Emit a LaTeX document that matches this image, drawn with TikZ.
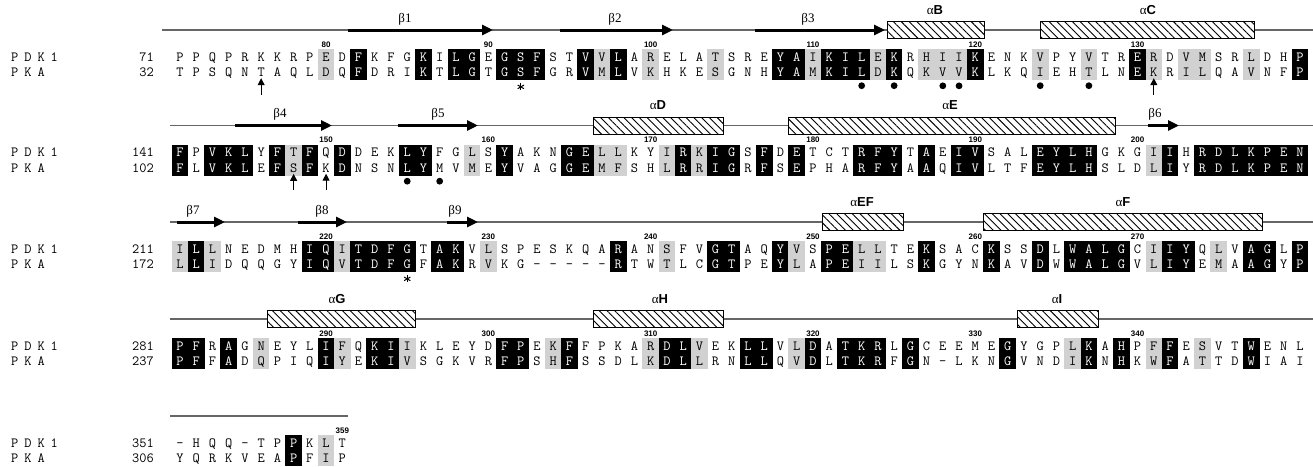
\documentclass[tikz,border=0pt]{standalone}
\usepackage{fontspec}
\setmainfont{Liberation Serif}
\setsansfont{Liberation Sans}
\usetikzlibrary{arrows.meta,patterns.meta}
\definecolor{shadegray}{gray}{0.82}
\definecolor{topogray}{gray}{0.4}
\tikzset{
  seqchar/.style={font=\ttfamily\fontsize{14}{14}\selectfont, inner sep=0pt, anchor=base},
  numlab/.style={font=\sffamily\bfseries\fontsize{8}{8}\selectfont, inner sep=0pt, anchor=base},
  namelab/.style={font=\ttfamily\fontsize{14}{14}\selectfont, inner sep=0pt, anchor=base west},
  startnum/.style={font=\ttfamily\fontsize{14}{14}\selectfont, inner sep=0pt, anchor=base east},
  topoline/.style={line width=1.1pt, draw=topogray},
  strand/.style={line width=3pt, -{Triangle[length=11pt,width=10pt]}},
  helix/.style={draw=black, line width=0.8pt, fill=white, postaction={pattern={Lines[angle=-45,distance=5.5pt,line width=0.9pt]}}},
  sslab/.style={font=\rmfamily\fontsize{13}{13}\selectfont, inner sep=0pt, anchor=base},
  markarrow/.style={line width=1pt, -{Triangle[length=7pt,width=7pt]}},
  astarm/.style={line width=1pt},
}
\newcommand\hx[1]{α{\sffamily\bfseries #1}}
\newcommand\alncell[6]{%
  \pgfmathsetmacro\cx{180+16.23*(#3-1)}%
  \def\tc{black}%
  \if k#6\relax
    \fill[black] (\cx-8.3,#2-7.75) rectangle (\cx+8.3,#2+23.25);
    \def\tc{white}%
  \else\if g#6\relax
    \fill[shadegray] (\cx-8.3,#2-7.75) rectangle (\cx+8.3,#2+23.25);
  \fi\fi
  \node[seqchar,text=\tc] (b#1p#3) at (\cx,#2+4) {#4};
  \node[seqchar,text=\tc] (b#1k#3) at (\cx,#2+19.5) {#5};
}
\ExplSyntaxOn
\NewDocumentCommand \alnblock { m m m m m }
  {
    \int_step_inline:nn { \str_count:n {#3} }
      {
        \use:e
          {
            \exp_not:N \alncell {#1} {#2} {##1}
              { \str_item:nn {#3} {##1} }
              { \str_item:nn {#4} {##1} }
              { \str_item:nn {#5} {##1} }
          }
      }
  }
\ExplSyntaxOff
\newcommand\aster[1]{\foreach \ang in {90,150,210,270,330,30}{\draw[astarm] (#1) -- ++(\ang:3.6pt);}}
\newcommand\nmsp{\hspace{5.95pt}}
\begin{document}
\begin{tikzpicture}[x=1pt,y=-1pt]
\useasboundingbox (0,0) rectangle (1313,466);
\fill[white] (0,0) rectangle (1313,466);

% ---------------- Block 1 ----------------
\draw[topoline] (162,30) -- (1313,30);
\draw[strand] (348,30) -- (493,30);
\draw[strand] (560,30) -- (673,30);
\draw[strand] (755,30) -- (885,30);
\draw[helix] (887,21.5) rectangle (984,38.5);
\draw[helix] (1040,21.5) rectangle (1254,38.5);
\node[sslab] (lb1) at (405,22) {β1};
\node[sslab] (lb2) at (615,22) {β2};
\node[sslab] (lb3) at (808,22) {β3};
\node[sslab] (laB) at (935,14) {\hx{B}};
\node[sslab] (laC) at (1148,14) {\hx{C}};
\node[namelab] (pdk1) at (11,61) {P\nmsp D\nmsp K\nmsp 1};
\node[namelab] (pka1) at (11,76.5) {P\nmsp K\nmsp A};
\node[startnum] (s1a) at (154,61) {71};
\node[startnum] (s1b) at (154,76.5) {32};
\alnblock{1}{57}{PPQPRKKRPEDFKFGKILGEGSFSTVVLARELATSREYAIKILEKRHIIKENKVPYVTRERDVMSRLDHP}{TPSQNTAQLDQFDRIKTLGTGSFGRVMLVKHKESGNHYAMKILDKQKVVKLKQIEHTLNEKRILQAVNFP}{.........g.k...k.kk.kkk..kgk.g...g...kkgkkkgk.gggk...g..g..kg.gg..g..k}
\foreach \c/\t in {9/80,19/90,29/100,39/110,49/120,59/130}
  \node[numlab] (n\t) at ({180+16.23*\c},47) {\t};
\foreach \c in {6,61}
  \draw[markarrow] ([yshift=-18pt]b1k\c.south) -- ([yshift=-1.5pt]b1k\c.south);
\foreach \c in {43,45,48,49,54,57}
  \fill ([yshift=-9pt]b1k\c.south) circle[radius=3.4pt];
\coordinate (ast1) at ([yshift=-10pt]b1k22.south);
\aster{ast1}

% ---------------- Block 2 ----------------
\draw[topoline] (170,125.5) -- (1313,125.5);
\draw[strand] (235,125.5) -- (332,125.5);
\draw[strand] (398,125.5) -- (478,125.5);
\draw[helix] (593,117) rectangle (723,134);
\draw[helix] (788,117) rectangle (1115,134);
\draw[strand] (1148,125.5) -- (1179,125.5);
\node[sslab] (lb4) at (280,117.5) {β4};
\node[sslab] (lb5) at (438,117.5) {β5};
\node[sslab] (laD) at (658,109.5) {\hx{D}};
\node[sslab] (laE) at (950,109.5) {\hx{E}};
\node[sslab] (lb6) at (1155,117.5) {β6};
\node[namelab] (pdk2) at (11,156.5) {P\nmsp D\nmsp K\nmsp 1};
\node[namelab] (pka2) at (11,172) {P\nmsp K\nmsp A};
\node[startnum] (s2a) at (154,156.5) {141};
\node[startnum] (s2b) at (154,172) {102};
\alnblock{2}{152.5}{FPVKLYFTFQDDEKLYFGLSYAKNGELLKYIRKIGSFDETCTRFYTAEIVSALEYLHGKGIIHRDLKPEN}{FLVKLEFSFKDNSNLYMVMEYVAGGEMFSHLRRIGRFSEPHARFYAAQIVLTFEYLHSLDLIYRDLKPEN}{k.kkk.kgk.k...kk..g.k...kkgg..gkgkk.k.k...kkk.k.kk...kkkk...gk.kkkkkkk}
\foreach \c/\t in {9/150,19/160,29/170,39/180,49/190,59/200}
  \node[numlab] (n\t) at ({180+16.23*\c},142.5) {\t};
\foreach \c in {8,10}
  \draw[markarrow] ([yshift=-18pt]b2k\c.south) -- ([yshift=-1.5pt]b2k\c.south);
\foreach \c in {15,17}
  \fill ([yshift=-9pt]b2k\c.south) circle[radius=3.4pt];

% ---------------- Block 3 ----------------
\draw[topoline] (170,222) -- (1313,222);
\draw[strand] (177,222) -- (225,222);
\draw[strand] (298,222) -- (347,222);
\draw[strand] (447,222) -- (478,222);
\draw[helix] (822,213.5) rectangle (903,230.5);
\draw[helix] (983,213.5) rectangle (1262,230.5);
\node[sslab] (lb7) at (193,214) {β7};
\node[sslab] (lb8) at (322,214) {β8};
\node[sslab] (lb9) at (455,214) {β9};
\node[sslab] (laEF) at (862,206) {\hx{EF}};
\node[sslab] (laF) at (1123,206) {\hx{F}};
\node[namelab] (pdk3) at (11,253) {P\nmsp D\nmsp K\nmsp 1};
\node[namelab] (pka3) at (11,268.5) {P\nmsp K\nmsp A};
\node[startnum] (s3a) at (154,253) {211};
\node[startnum] (s3b) at (154,268.5) {172};
\alnblock{3}{249}{ILLNEDMHIQITDFGTAKVLSPESKQARANSFVGTAQYVSPELLTEKSACKSSDLWALGCIIYQLVAGLP}{LLIDQQGYIQVTDFGFAKRVKG-----RTWTLCGTPEYLAPEIILSKGYNKAVDWWALGVLIYEMAAGYP}{gkg.....kkgkkkk.kk.g.......k..g..kk..kg.kkgg..k...k..k.kkkk.gkk.g.kk.k}
\foreach \c/\t in {9/220,19/230,29/240,39/250,49/260,59/270}
  \node[numlab] (n\t) at ({180+16.23*\c},239) {\t};
\coordinate (ast2) at ([yshift=-10pt]b3k15.south);
\aster{ast2}

% ---------------- Block 4 ----------------
\draw[topoline] (170,319) -- (1313,319);
\draw[helix] (267,310.5) rectangle (415,327.5);
\draw[helix] (593,310.5) rectangle (723,327.5);
\draw[helix] (1017,310.5) rectangle (1098,327.5);
\node[sslab] (laG) at (337,303) {\hx{G}};
\node[sslab] (laH) at (660,303) {\hx{H}};
\node[sslab] (laI) at (1057,303) {\hx{I}};
\node[namelab] (pdk4) at (11,350) {P\nmsp D\nmsp K\nmsp 1};
\node[namelab] (pka4) at (11,365.5) {P\nmsp K\nmsp A};
\node[startnum] (s4a) at (154,350) {281};
\node[startnum] (s4b) at (154,365.5) {237};
\alnblock{4}{346}{PFRAGNEYLIFQKIIKLEYDFPEKFFPKARDLVEKLLVLDATKRLGCEEMEGYGPLKAHPFFESVTWENL}{PFFADQPIQIYEKIVSGKVRFPSHFSSDLKDLLRNLLQVDLTKRFGN-LKNGVNDIKNHKWFATTDWIAI}{kk.k.g...kg.kkg.....kk.gk....gkkg..kk.gk.kkk.k.....k...gk.k.gk.g..k...}
\foreach \c/\t in {9/290,19/300,29/310,39/320,49/330,59/340}
  \node[numlab] (n\t) at ({180+16.23*\c},336) {\t};

% ---------------- Block 5 ----------------
\draw[topoline] (170,416) -- (348,416);
\node[namelab] (pdk5) at (11,447) {P\nmsp D\nmsp K\nmsp 1};
\node[namelab] (pka5) at (11,462.5) {P\nmsp K\nmsp A};
\node[startnum] (s5a) at (154,447) {351};
\node[startnum] (s5b) at (154,462.5) {306};
\alnblock{5}{443}{-HQQ-TPPKLT}{YQRKVEAPFIP}{.......k.g.}
\node[numlab] (n359) at ({180+16.23*10},433) {359};
\end{tikzpicture}
\end{document}
